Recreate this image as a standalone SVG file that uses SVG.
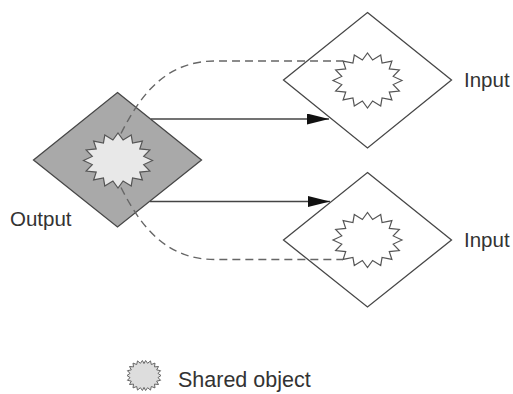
<svg xmlns="http://www.w3.org/2000/svg" xmlns:xlink="http://www.w3.org/1999/xlink" width="513" height="394" viewBox="0 0 513 394">
<style>
.diamond{stroke:#474747;stroke-width:1.3;stroke-linejoin:miter}
.star{stroke:#555;stroke-width:1.2;stroke-linejoin:miter}
.lbl{font-family:"Liberation Sans",Arial,sans-serif;font-size:20.5px;fill:#333}
.arrow{stroke:#444;stroke-width:1.3;fill:none}
.dash{stroke:#666;stroke-width:1.4;fill:none;stroke-dasharray:8 5}
</style>
<defs>
<polygon id="sb" points="34.5,0 25.72,4.08 31.87,10.52 21.8,11.61 24.39,19.45 14.57,17.38 13.2,25.41 5.12,20.5 0,27.5 -5.12,20.5 -13.2,25.41 -14.57,17.38 -24.39,19.45 -21.8,11.61 -31.87,10.52 -25.72,4.08 -34.5,0 -25.72,-4.08 -31.87,-10.52 -21.8,-11.61 -24.39,-19.45 -14.57,-17.38 -13.2,-25.41 -5.12,-20.5 0,-27.5 5.12,-20.5 13.2,-25.41 14.57,-17.38 24.39,-19.45 21.8,-11.61 31.87,-10.52 25.72,-4.08"/>
<marker id="ah" markerUnits="userSpaceOnUse" markerWidth="24" markerHeight="12" refX="22" refY="5.5" orient="auto">
<path d="M0,0 L22,5.5 L0,11 Z" fill="#111"/>
</marker>
</defs>
<g id="output">
<polygon class="diamond" points="117.5,92.5 201.5,160 117.5,227 33.5,160" fill="#a9a9a9"/>
<use xlink:href="#sb" class="star" fill="#e8e8e8" x="118" y="160.5"/>
<text class="lbl" x="10" y="226">Output</text>
</g>
<g id="input1">
<polygon class="diamond" points="367.5,12.5 451.5,80 367.5,148 283.5,80" fill="#fff"/>
<use xlink:href="#sb" class="star" fill="#fff" x="367.5" y="80.5"/>
<text class="lbl" x="464" y="87">Input</text>
</g>
<g id="input2">
<polygon class="diamond" points="367.5,172.5 451.5,240 367.5,307 283.5,240" fill="#fff"/>
<use xlink:href="#sb" class="star" fill="#fff" x="367.5" y="240"/>
<text class="lbl" x="464" y="247">Input</text>
</g>
<g id="connectors">
<line class="arrow" x1="151" y1="119" x2="329" y2="119" marker-end="url(#ah)"/>
<line class="arrow" x1="150" y1="201.5" x2="330" y2="201.5" marker-end="url(#ah)"/>
<path class="dash" d="M121,133.5 C140,96 165,61 215,61 L343.1,61"/>
<path class="dash" d="M121,187.5 C140,225 165,259.5 215,259.5 L343.1,259.5"/>
</g>
<g id="legend">
<polygon fill="#ddd" stroke="#666" stroke-width="1" points="161,375.5 158,377.6 160.6,380.3 156.7,381.1 158.5,384.5 154.5,384.1 155,387.9 151.3,386.5 150.5,390.1 147.6,387.7 145.6,390.5 144,387.4 142.4,390.5 140.4,387.7 137.5,390.1 136.7,386.5 133,387.9 133.5,384.1 129.5,384.5 131.3,381.1 127.4,380.3 130,377.6 127,375.5 130,373.4 127.4,370.7 131.3,369.9 129.5,366.5 133.5,366.9 133,363.1 136.7,364.5 137.5,360.9 140.4,363.3 142.4,360.5 144,363.6 145.6,360.5 147.6,363.3 150.5,360.9 151.3,364.5 155,363.1 154.5,366.9 158.5,366.5 156.7,369.9 160.6,370.7 158,373.4"/>
<text class="lbl" x="178" y="387" style="font-size:21.5px">Shared object</text>
</g>
</svg>
